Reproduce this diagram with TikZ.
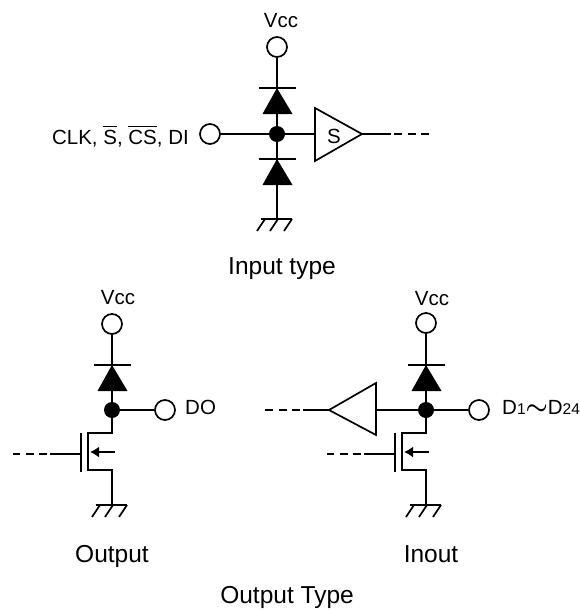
\documentclass[tikz,border=0pt]{standalone}
\usepackage{amsmath}
\usepackage{fontspec}
\usetikzlibrary{arrows.meta}
\setmainfont{Liberation Sans}
\tikzset{
  wire/.style={line width=1.7pt},
  leadout/.style={line width=2.6pt, dash pattern=on 8pt off 5.5pt},
  pad/.style={circle, draw, line width=1.7pt, fill=white, minimum size=20pt, inner sep=0pt},
  joint/.style={circle, fill=black, minimum size=16pt, inner sep=0pt},
  smalltext/.style={font=\fontsize{20.5}{24}\selectfont, inner sep=0pt},
  bigtext/.style={font=\fontsize{24.5}{28}\selectfont, inner sep=0pt, anchor=base}
}
\begin{document}
\begin{tikzpicture}[x=1pt, y=-1pt]
\useasboundingbox (0,0) rectangle (579,610);

%================ INPUT TYPE ==================
\node[pad] (padVccA) at (277,47) {};
\node[pad] (padInA) at (210,134) {};
\node[joint] (jointA) at (277,134) {};
\coordinate (diodeTopA) at (277,88);
\coordinate (diodeBotA) at (277,159);
\coordinate (gndA) at (277,219);
\coordinate (bufInA) at (315,134);
\coordinate (bufOutA) at (362,134);
\coordinate (leadA) at (391,134);
\coordinate (endA) at (430,134);

\draw[wire] (padVccA) -- (jointA);
\draw[wire] (jointA) -- (gndA);
\draw[wire] (padInA) -- (jointA);
\draw[wire] (jointA) -- (bufInA);
\draw[wire] (bufOutA) -- (leadA);
\draw[leadout] (leadA) ++(3,0) -- (endA);
\draw[wire, line join=miter] (315,108) -- (362,134) -- (315,161) -- cycle;

\node[smalltext, anchor=base] (labelVccA) at (281,28) {Vcc};
\node[smalltext, anchor=base] (labelS) at (334,143) {S};
\node[smalltext, anchor=base east] (labelIn) at (189,144) {CLK, $\overline{\mbox{S}}$, $\overline{\mbox{CS}}$, DI};
\node[bigtext] (titleInput) at (282,274) {Input type};

%================ OUTPUT ==================
\node[pad] (padVccB) at (112,324) {};
\node[pad] (padOutB) at (165,410) {};
\node[joint] (jointB) at (112,410) {};
\coordinate (diodeB) at (112,365);
\coordinate (gndB) at (112,505);

\draw[wire] (padVccB) -- (jointB);
\draw[wire] (jointB) -- (padOutB);

\node[smalltext, anchor=base] (labelVccB) at (118,304) {Vcc};
\node[smalltext, anchor=base west] (labelDO) at (185,414) {DO};
\node[bigtext] (titleOutput) at (112,562) {Output};

%================ INOUT ==================
\node[pad] (padVccC) at (426,323) {};
\node[pad] (padOutC) at (479,410) {};
\node[joint] (jointC) at (426,410) {};
\coordinate (diodeC) at (426,365);
\coordinate (gndC) at (426,505);
\coordinate (bufInC) at (376,410);
\coordinate (bufOutC) at (329,410);
\coordinate (leadC) at (303,410);
\coordinate (endC) at (264,410);

\draw[wire] (padVccC) -- (jointC);
\draw[wire] (jointC) -- (padOutC);
\draw[wire] (jointC) -- (bufInC);
\draw[wire] (bufOutC) -- (leadC);
\draw[leadout] (leadC) ++(-3,0) -- (endC);
\draw[wire, line join=miter] (376,383) -- (329,410) -- (376,435) -- cycle;

\node[smalltext, anchor=base] (labelVccC) at (432,305) {Vcc};
\node[smalltext, anchor=base west] (labelOutC) at (502,414) {D{\fontsize{15.5}{16}\selectfont 1}{\fontsize{24}{24}\selectfont\boldmath$\sim$}D{\fontsize{15.5}{16}\selectfont 24}};
\node[bigtext] (titleInout) at (431,562) {Inout};
\node[bigtext] (titleType) at (287,603) {Output Type};

%================ TRANSISTORS ==================
\foreach \n/\xx in {B/112,C/426} {
  \coordinate (drain\n) at (\xx,433);
  \coordinate (source\n) at (\xx,470);
  \coordinate (gateIn\n) at (\xx-62,454);
  \coordinate (gate\n) at (\xx-31,454);
  \coordinate (gateEnd\n) at (\xx-99,454);
  \draw[wire] (joint\n) -- (drain\n) -- ++(-24,0) -- ++(0,37) -- (source\n) -- (gnd\n);
  \draw[wire] (gateIn\n) -- (gate\n);
  \draw[leadout] (gateIn\n) ++(-3,0) -- (gateEnd\n);
  \draw[wire] (\xx-31,433) -- (\xx-31,472);
  \draw[line width=2.6pt, -{Latex[length=9pt,width=11pt]}] (\xx+3,452) -- (\xx-22,452);
}

%================ DIODES ==================
\foreach \d in {diodeTopA,diodeBotA,diodeB,diodeC} {
  \draw[wire] (\d) ++(-18,0) -- ++(37,0);
  \fill (\d) -- ++(-14.5,26) -- ++(30,0) -- cycle;
}

%================ GROUNDS ==================
\foreach \g in {gndA,gndB,gndC} {
  \draw[wire] (\g) ++(-16,0) -- ++(31,0);
  \foreach \dx in {-12,1,15} {
    \draw[wire] (\g) ++(\dx,0) -- ++(-8,12);
  }
}

\end{tikzpicture}
\end{document}
